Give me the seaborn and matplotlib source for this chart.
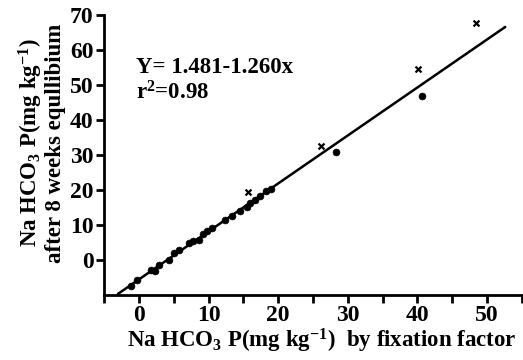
import matplotlib
matplotlib.use("Agg")
import matplotlib.pyplot as plt
import seaborn as sns
import pandas as pd
import numpy as np
from matplotlib.ticker import MultipleLocator

# ---- data ----
circle_x = [-1.1, -0.3, 1.8, 2.3, 2.9, 4.3, 5.1, 5.7, 7.2, 7.8, 8.6, 9.2, 9.8, 10.5,
            12.3, 13.4, 14.5, 15.5, 16.0, 16.6, 17.4, 18.3, 19.0, 28.3, 40.6]
circle_y = [-7.4, -5.7, -3.0, -3.2, -1.5, 0.0, 2.0, 2.8, 4.8, 5.3, 5.8, 7.5, 8.3, 9.0,
            11.5, 12.5, 14.0, 15.0, 16.2, 17.0, 18.3, 19.8, 20.2, 30.9, 46.9]
cross_x = [15.7, 26.2, 40.1, 48.4]
cross_y = [19.4, 32.6, 54.6, 67.7]
fit_intercept = -5.6
fit_slope = 1.373
fit_range = [-3.0, 52.6]
x_ticks = [0, 10, 20, 30, 40, 50]
y_ticks = [0, 10, 20, 30, 40, 50, 60, 70]
eq_text = "Y= 1.481-1.260x"
r2_text = "r$^\\mathbf{2}$=0.98"
x_label = "Na HCO$_\\mathbf{3}$ P(mg kg$^{\\mathbf{-1}}$)  by fixation factor"
y_label = "Na HCO$_\\mathbf{3}$ P(mg kg$^{\\mathbf{-1}}$)\nafter 8 weeks equllibium"

sns.set_theme(style="ticks")
plt.rcParams['font.family'] = ['Liberation Serif', 'DejaVu Serif']
plt.rcParams['font.weight'] = 'bold'
plt.rcParams['mathtext.fontset'] = 'custom'
plt.rcParams['mathtext.rm'] = 'Liberation Serif:bold'
plt.rcParams['mathtext.it'] = 'Liberation Serif:italic:bold'
plt.rcParams['mathtext.bf'] = 'Liberation Serif:bold'
plt.rcParams['mathtext.default'] = 'bf'
plt.rcParams['text.color'] = 'black'
plt.rcParams['axes.labelcolor'] = 'black'
plt.rcParams['xtick.color'] = 'black'
plt.rcParams['ytick.color'] = 'black'

fig = plt.figure(figsize=(5.23, 3.60), dpi=100)
ax = fig.add_axes([0.199, 0.181, 0.799, 0.777])

df_c = pd.DataFrame({"x": circle_x, "y": circle_y})
df_x = pd.DataFrame({"x": cross_x, "y": cross_y})
line_x = np.array(fit_range)
df_l = pd.DataFrame({"x": line_x, "y": fit_intercept + fit_slope * line_x})

sns.lineplot(data=df_l, x="x", y="y", ax=ax, color="black", linewidth=1.8)
sns.scatterplot(data=df_c, x="x", y="y", ax=ax, color="black", marker="o", s=24,
                edgecolor="black", linewidth=0.5)
sns.scatterplot(data=df_x, x="x", y="y", ax=ax, color="black", marker="x", s=18,
                linewidth=1.6)

ax.set_xlim(-5, 55)
ax.set_ylim(-10, 70)
ax.set_xticks(x_ticks)
ax.set_yticks(y_ticks)
ax.xaxis.set_minor_locator(MultipleLocator(5))

for s in ["top", "right"]:
    ax.spines[s].set_visible(False)
for s in ["left", "bottom"]:
    ax.spines[s].set_linewidth(2.0)
    ax.spines[s].set_color("black")

ax.tick_params(axis="both", which="major", length=6, width=2.0, color="black",
               labelsize=17, pad=1.5)
ax.tick_params(axis="x", which="minor", length=6, width=2.0, color="black")
ax.tick_params(axis="y", which="minor", length=0)
for lab in ax.get_xticklabels() + ax.get_yticklabels():
    lab.set_fontweight("bold")

ax.set_xlabel("")
ax.set_ylabel("")
fig.text(322 / 523, 1 - 341 / 360, x_label, fontsize=16.5, fontweight="bold",
         ha="center", va="center")
fig.text(41 / 523, 1 - 143 / 360, y_label, fontsize=16.5, fontweight="bold",
         ha="center", va="center", rotation=90, linespacing=1.0,
         multialignment="center")

ax.text(-0.4, 54.9, eq_text, fontsize=16.5, fontweight="bold", ha="left", va="center")
ax.text(-0.4, 47.7, r2_text, fontsize=16.5, fontweight="bold", ha="left", va="center")

fig.savefig("out.png", dpi=100)
